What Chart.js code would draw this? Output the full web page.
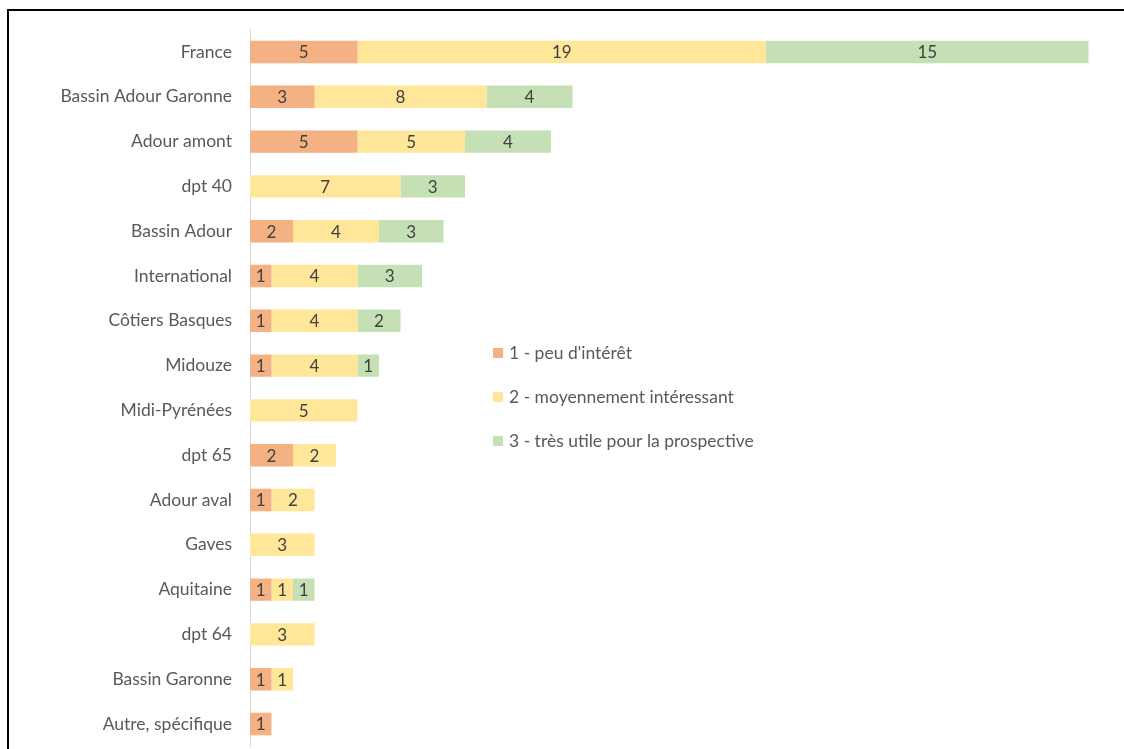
<!DOCTYPE html>
<html>
<head>
<meta charset="utf-8">
<script src="https://cdn.jsdelivr.net/npm/chart.js@4/dist/chart.umd.min.js"></script>
<style>
  html, body { margin: 0; padding: 0; background: #fff; }
  #wrap { position: relative; width: 1124px; height: 749px; overflow: hidden; }
  #frame { position: absolute; left: 7px; top: 9px; width: 1200px; height: 800px; border: 2px solid #000; box-sizing: border-box; }
  canvas { position: absolute; left: 0; top: 0; }
</style>
</head>
<body>
<div id="wrap">
  <div id="frame"></div>
  <canvas id="chart" width="1124" height="749"></canvas>
</div>
<script>
const categories = ["France", "Bassin Adour Garonne", "Adour amont", "dpt 40", "Bassin Adour", "International", "Côtiers Basques", "Midouze", "Midi-Pyrénées", "dpt 65", "Adour aval", "Gaves", "Aquitaine", "dpt 64", "Bassin Garonne", "Autre, spécifique"];
const seriesNames = ["1 - peu d'intérêt", "2 - moyennement intéressant", "3 - très utile pour la prospective"];
const peuInteret = [5, 3, 5, null, 2, 1, 1, 1, null, 2, 1, null, 1, null, 1, 1];
const moyennement = [19, 8, 5, 7, 4, 4, 4, 4, 5, 2, 2, 3, 1, 3, 1, null];
const tresUtile = [15, 4, 4, 3, 3, 3, 2, 1, null, null, null, null, 1, null, null, null];
const colors = ["#F4B183", "#FFE699", "#C5E0B4"];

const FONT = "Lato, 'Open Sans', sans-serif";

// value written in the middle of each segment
const barLabels = {
  id: "barLabels",
  afterDatasetsDraw(chart) {
    const ctx = chart.ctx;
    ctx.save();
    ctx.font = "17px " + FONT;
    ctx.fillStyle = "#404040";
    ctx.textAlign = "center";
    ctx.textBaseline = "middle";
    chart.data.datasets.forEach((ds, i) => {
      chart.getDatasetMeta(i).data.forEach((el, j) => {
        const v = ds.data[j];
        if (v == null) return;
        ctx.fillText(String(v), (el.x + el.base) / 2, el.y + 1);
      });
    });
    ctx.restore();
  }
};

// legend sits inside the plot, like the excel original
const sideLegend = {
  id: "sideLegend",
  afterDraw(chart) {
    const ctx = chart.ctx;
    ctx.save();
    ctx.font = "17.5px " + FONT;
    ctx.textBaseline = "middle";
    chart.data.datasets.forEach((ds, i) => {
      const y = 353 + i * 44;
      ctx.fillStyle = ds.backgroundColor;
      ctx.fillRect(493, y - 5, 10, 10);
      ctx.fillStyle = "#595959";
      ctx.fillText(ds.label, 509, y);
    });
    ctx.restore();
  }
};

new Chart(document.getElementById("chart"), {
  type: "bar",
  data: {
    labels: categories,
    datasets: [
      { label: seriesNames[0], data: peuInteret, backgroundColor: colors[0] },
      { label: seriesNames[1], data: moyennement, backgroundColor: colors[1] },
      { label: seriesNames[2], data: tresUtile, backgroundColor: colors[2] }
    ]
  },
  options: {
    indexAxis: "y",
    responsive: false,
    animation: false,
    layout: { padding: { left: 0, top: 29.6, right: 14, bottom: 2.6 } },
    datasets: { bar: { categoryPercentage: 1, barPercentage: 0.5 } },
    plugins: { legend: { display: false }, tooltip: { enabled: false } },
    scales: {
      x: { stacked: true, display: false, min: 0, max: 40 },
      y: {
        stacked: true,
        afterFit(scale) { scale.width = 250; scale.paddingTop = 0; scale.paddingBottom = 0; },
        grid: { display: true, color: "transparent", drawTicks: false },
        border: { display: true, color: "#d9d9d9", width: 1 },
        ticks: { color: "#595959", font: { family: FONT, size: 17.5 }, padding: 18 }
      }
    }
  },
  plugins: [barLabels, sideLegend]
});
</script>
</body>
</html>
